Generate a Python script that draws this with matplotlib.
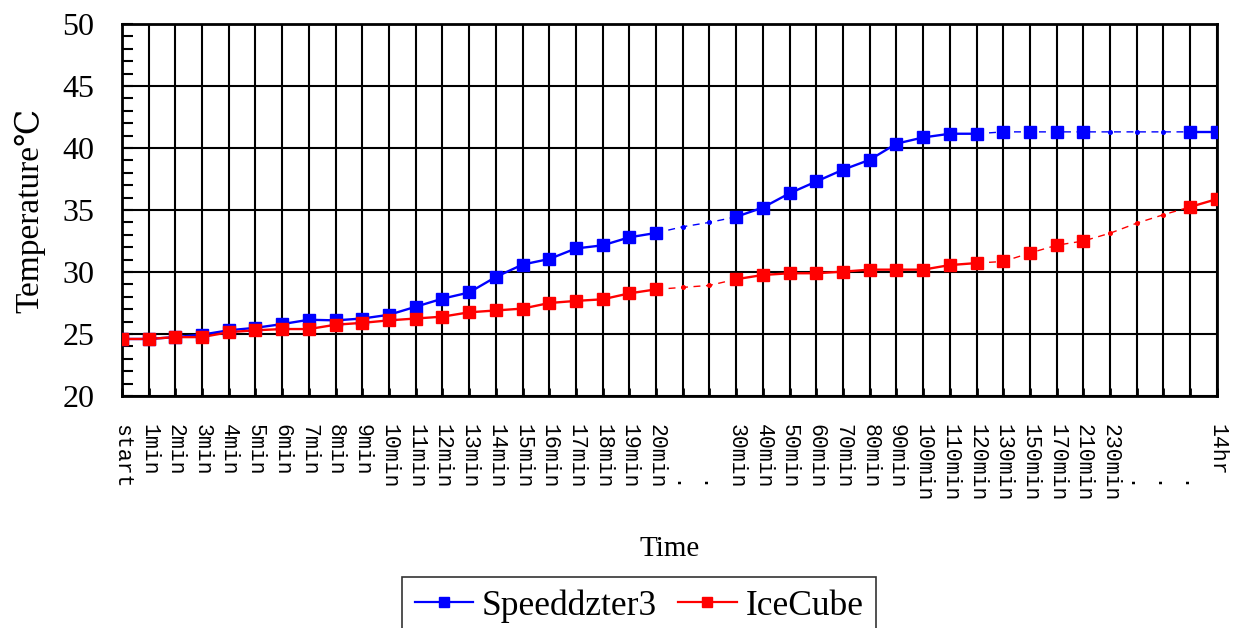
import numpy as np
import matplotlib
matplotlib.use("Agg")
from matplotlib import pyplot as plt
from matplotlib.lines import Line2D
from matplotlib.ticker import MultipleLocator

# category labels along the time axis
labels = ["start"] + ["%dmin" % i for i in range(1, 21)] + ["    .", "    ."] + \
    ["30min", "40min", "50min", "60min", "70min", "80min", "90min",
     "100min", "110min", "120min", "130min", "150min", "170min", "210min", "230min",
     "    .", "    .", "    .", "14hr"]

# temperatures
speed = [24.6, 24.6, 24.75, 24.95, 25.3, 25.5, 25.8, 26.15, 26.1, 26.25,
         26.55, 27.2, 27.85, 28.35, 29.6, 30.6, 31.05, 31.9, 32.15, 32.8,
         33.15, 33.65, 34.0, 34.45, 35.2, 36.35, 37.3, 38.25, 39.05, 40.35,
         40.85, 41.15, 41.15, 41.3, 41.3, 41.3, 41.3, 41.3, 41.3, 41.3,
         41.3, 41.3]
ice = [24.6, 24.6, 24.75, 24.75, 25.15, 25.3, 25.4, 25.4, 25.75, 25.9,
       26.1, 26.25, 26.4, 26.75, 26.9, 27.05, 27.5, 27.67, 27.8, 28.28,
       28.6, 28.76, 28.92, 29.42, 29.76, 29.9, 29.9, 30.03, 30.19, 30.19,
       30.19, 30.56, 30.72, 30.85, 31.53, 32.16, 32.5, 33.13, 33.94, 34.62,
       35.25, 35.88]

# points drawn with the tiny marker (gaps in the measurements)
gap_idx = [21, 22, 37, 38, 39]
# pieces of line: (first, last, dashed?)
pieces = [(0, 20, False), (20, 23, True), (23, 32, False), (32, 40, True), (40, 41, False)]

serif = ['Liberation Serif', 'DejaVu Serif', 'DejaVu Sans', 'Noto Sans CJK TC']

fig = plt.figure(figsize=(12.42, 6.28), dpi=100)
ax = fig.add_axes([0.0982, 0.3694, 0.8816, 0.5924])

x = np.arange(len(labels))
big = [i for i in x if i not in gap_idx]

for y, col in [(speed, "#0000ff"), (ice, "#ff0000")]:
    y = np.array(y)
    for a, b, dashed in pieces:
        if dashed:
            ax.plot(x[a:b + 1], y[a:b + 1], color=col, lw=1.0, ls=(0, (5, 4)), zorder=3)
        else:
            ax.plot(x[a:b + 1], y[a:b + 1], color=col, lw=1.7, zorder=3)
    ax.plot(x[big], y[big], "s", color=col, ms=8, zorder=4)
    ax.plot(x[gap_idx], y[gap_idx], "o", color=col, ms=2.6, zorder=4)

#axes and grid
ax.set_xlim(0, len(labels) - 1)
ax.set_ylim(20, 50)
ax.set_xticks(x)
ax.set_xticklabels(labels, rotation=-90, family='Liberation Mono', fontsize=15.5,
                   va='top', ha='center')
ax.yaxis.set_major_locator(MultipleLocator(5))
ax.yaxis.set_minor_locator(MultipleLocator(1))
ax.grid(True, which='major', color='black', lw=1.5)
ax.set_axisbelow(True)
ax.tick_params(axis='x', direction='in', length=6, width=2, pad=20)
ax.tick_params(axis='y', which='both', direction='in', length=8, width=1.5, pad=20)
for t in ax.get_yticklabels():
    t.set_family(serif)
    t.set_fontsize(23)
for s in ax.spines.values():
    s.set_linewidth(2)
    s.set_color('black')

ax.set_ylabel("Temperature℃", family=serif, fontsize=24, labelpad=12)
ax.set_xlabel("Time", family=serif, fontsize=21, labelpad=25)

handles = [Line2D([], [], color="#0000ff", lw=1.6, marker="s", ms=7.8),
           Line2D([], [], color="#ff0000", lw=1.6, marker="s", ms=7.8)]
leg = fig.legend(handles, ["Speeddzter3", "IceCube"], loc='upper center',
                 bbox_to_anchor=(0.5145, 1 - 577 / 628), ncol=2, frameon=True,
                 fancybox=False, prop={'family': serif, 'size': 25.5},
                 handlelength=1.65, handletextpad=0.25, columnspacing=0.6,
                 borderpad=0.35, borderaxespad=0)
leg.get_frame().set_edgecolor('black')
leg.get_frame().set_linewidth(1.2)

plt.savefig("out.png", dpi=100)
